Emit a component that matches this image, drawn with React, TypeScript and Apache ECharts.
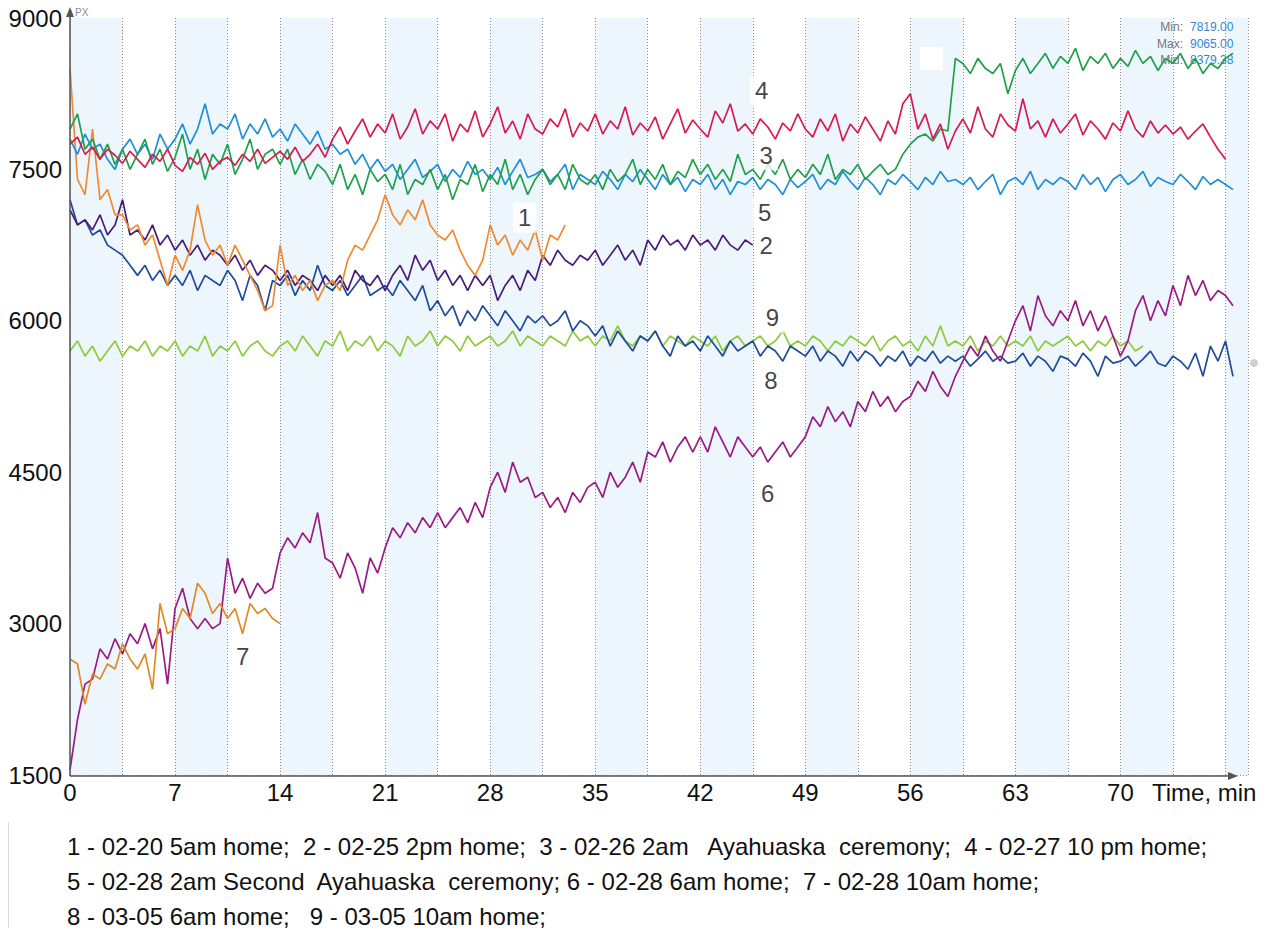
import React, { useEffect, useRef } from "react";
import * as echarts from "echarts";

// sampling step of the recordings, minutes
const STEP = 0.5;

const xTickLabels = [0, 7, 14, 21, 28, 35, 42, 49, 56, 63, 70];
const yTickLabels = [1500, 3000, 4500, 6000, 7500, 9000];

const seriesNames = ["1", "2", "3", "4", "5", "6", "7", "8", "9"];
const seriesColors = ["#F08A30", "#4A1C7A", "#1FA04A", "#D91A4E", "#1F8FDA", "#9B1B86", "#DF8A24", "#1E4B9B", "#8DCB3C"];

// 1 - 02-20 5am home
const s1 = [
  8500, 7400, 7250, 7900, 7200, 7300, 7050,
  7050, 6900, 6950, 6750, 6850, 6600, 6350,
  6650, 6500, 6700, 7150, 6800, 6650, 6750,
  6550, 6750, 6600, 6450, 6300, 6100, 6150,
  6750, 6350, 6450, 6300, 6400, 6200, 6350,
  6400, 6300, 6600, 6750, 6700, 6850, 7000,
  7250, 7050, 6950, 7100, 7000, 7200, 6950,
  6850, 6800, 6900, 6700, 6550, 6450, 6600,
  6950, 6750, 6850, 6650, 6800, 6700, 6900,
  6600, 6850, 6800, 6950,
];
// 2 - 02-25 2pm home
const s2 = [
  7100, 6950, 7000, 6900, 7050, 6850, 6950,
  7200, 6850, 6900, 6800, 6950, 6750, 6850,
  6700, 6800, 6650, 6750, 6600, 6700, 6650,
  6550, 6650, 6500, 6600, 6450, 6550, 6500,
  6400, 6500, 6350, 6450, 6400, 6300, 6450,
  6350, 6450, 6300, 6500, 6400, 6350, 6450,
  6300, 6450, 6550, 6400, 6650, 6500, 6600,
  6400, 6500, 6350, 6450, 6300, 6450, 6350,
  6450, 6200, 6350, 6450, 6300, 6500, 6400,
  6650, 6550, 6700, 6600, 6550, 6650, 6600,
  6700, 6550, 6650, 6750, 6600, 6700, 6550,
  6800, 6700, 6850, 6750, 6800, 6700, 6850,
  6750, 6800, 6700, 6850, 6750, 6700, 6800,
  6750,
];
// 3 - 02-26 2am Ayahuaska ceremony
const s3 = [
  7900, 8050, 7700, 7800, 7600, 7750, 7550,
  7700, 7500, 7650, 7800, 7550, 7700, 7480,
  7620, 7850, 7500, 7700, 7400, 7650, 7550,
  7750, 7450, 7600, 7800, 7500, 7650, 7700,
  7550, 7700, 7450, 7600, 7400, 7550, 7480,
  7350, 7550, 7300, 7450, 7250, 7500, 7380,
  7450, 7300, 7550, 7250, 7400, 7350, 7500,
  7300, 7450, 7200, 7400, 7350, 7550, 7280,
  7450, 7350, 7600, 7300, 7450, 7250, 7400,
  7500, 7350, 7450, 7300, 7550, 7400, 7350,
  7450, 7300, 7500, 7380, 7450, 7600, 7350,
  7500, 7400, 7550, 7350, 7480, 7420, 7600,
  7450, 7550, 7400, 7500, 7380, 7650, 7450,
  7500, 7400, 7550, 7450, 7600, 7400, 7500,
  7420, 7550, 7450, 7650, 7400, 7500, 7450,
  7550, 7400, 7480, 7550, 7450, 7500, 7650,
  7750, 7820, 7850, 7780, 7900, 7880, 8600,
  8550, 8450, 8600, 8500, 8450, 8550, 8250,
  8480, 8600, 8450, 8550, 8650, 8500, 8620,
  8550, 8700, 8480, 8620, 8550, 8650, 8500,
  8600, 8520, 8680, 8550, 8620, 8480, 8600,
  8550, 8650, 8500, 8600, 8450, 8550, 8500,
  8600, 8650,
];
// 4 - 02-27 10 pm home
const s4 = [
  7750, 7820, 7650, 7720, 7600, 7700, 7640,
  7560, 7680, 7600, 7520, 7650, 7580, 7700,
  7540, 7480, 7620, 7550, 7660, 7500, 7580,
  7620, 7540, 7650, 7580, 7700, 7560, 7620,
  7680, 7600, 7720, 7580, 7650, 7750, 7620,
  7800, 7920, 7750, 7880, 8000, 7820, 7950,
  7860, 8050, 7800, 7920, 8100, 7850, 7980,
  7900, 8050, 7780, 7950, 7870, 8080, 7820,
  7950, 8120, 7860, 7980, 7800, 8050, 7900,
  7850, 8000, 7920, 8100, 7820, 7960, 7880,
  8050, 7850, 7980, 7900, 8120, 7840, 7960,
  7880, 8020, 7800, 7950, 8100, 7860, 7990,
  7900, 7820, 8080, 7960, 8150, 7880, 7950,
  7850, 8000, 7920, 7800, 7960, 7880, 8050,
  7900, 7820, 8000, 7880, 8050, 7780, 7950,
  7860, 8020, 7900, 7780, 7980, 7850, 8150,
  8250, 7900, 8050, 7800, 7950, 7700, 7880,
  8000, 7860, 8120, 7900, 7820, 8050, 7940,
  7880, 8200, 7900, 7980, 7820, 8000, 7860,
  7950, 8050, 7840, 7980, 7900, 7800, 7960,
  7880, 8080, 7900, 7820, 7980, 7860, 7940,
  7850, 7920, 7800, 7880, 7950, 7820, 7700,
  7600,
];
// 5 - 02-28 2am Second Ayahuaska ceremony
const s5 = [
  7800, 7650, 7850, 7700, 7750, 7600, 7500,
  7700, 7800, 7650, 7750, 7600, 7850, 7700,
  7800, 7950, 7750, 7900, 8150, 7850, 7950,
  7900, 8050, 7800, 7950, 7850, 8000, 7820,
  7900, 7780, 7950, 7850, 7750, 7880, 7700,
  7750, 7650, 7700, 7550, 7650, 7500, 7600,
  7480, 7550, 7400, 7500, 7600, 7420, 7480,
  7550, 7380, 7500, 7420, 7580, 7450, 7500,
  7400, 7520, 7350, 7480, 7600, 7420, 7450,
  7500, 7380, 7450, 7550, 7300, 7450, 7400,
  7350, 7480, 7400, 7300, 7450, 7380, 7500,
  7400, 7300, 7450, 7350, 7420, 7280, 7400,
  7350, 7450, 7300, 7400, 7250, 7380, 7350,
  7420, 7300, 7400, 7350, 7250, 7400, 7320,
  7380, 7450, 7300, 7400, 7350, 7480, 7380,
  7300, 7420, 7350, 7250, 7400, 7350, 7450,
  7380, 7300, 7420, 7350, 7480, 7380, 7400,
  7350, 7420, 7300, 7380, 7450, 7250, 7380,
  7420, 7350, 7480, 7300, 7400, 7350, 7420,
  7380, 7300, 7450, 7350, 7420, 7280, 7400,
  7450, 7350, 7400, 7480, 7330, 7420, 7380,
  7350, 7450, 7380, 7300, 7430, 7350, 7400,
  7350, 7300,
];
// 6 - 02-28 6am home
const s6 = [
  1550, 2050, 2400, 2450, 2750, 2650, 2850,
  2700, 2900, 2800, 3000, 2750, 2950, 2400,
  3150, 3350, 3050, 2950, 3050, 2950, 3000,
  3650, 3300, 3450, 3250, 3400, 3300, 3350,
  3700, 3850, 3750, 3900, 3800, 4100, 3650,
  3600, 3450, 3700, 3550, 3300, 3650, 3500,
  3750, 3950, 3850, 4000, 3900, 4050, 3950,
  4100, 3950, 4050, 4150, 4000, 4200, 4050,
  4350, 4500, 4300, 4600, 4400, 4450, 4250,
  4300, 4150, 4250, 4100, 4300, 4200, 4350,
  4400, 4250, 4500, 4350, 4450, 4600, 4400,
  4700, 4650, 4800, 4600, 4750, 4850, 4700,
  4850, 4700, 4950, 4800, 4650, 4850, 4750,
  4650, 4750, 4600, 4700, 4800, 4650, 4750,
  4850, 5050, 4950, 5150, 5000, 5100, 4950,
  5200, 5100, 5300, 5150, 5250, 5100, 5200,
  5250, 5400, 5300, 5500, 5350, 5250, 5450,
  5600, 5750, 5650, 5850, 5700, 5600, 5800,
  6000, 6150, 5900, 6250, 6050, 5950, 6100,
  6000, 6200, 5950, 6100, 5900, 6050, 5850,
  5650, 5800, 6100, 6250, 6000, 6200, 6050,
  6350, 6150, 6450, 6250, 6400, 6200, 6300,
  6250, 6150,
];
// 7 - 02-28 10am home
const s7 = [
  2650, 2600, 2200, 2500, 2450, 2600, 2550,
  2800, 2650, 2550, 2700, 2350, 3200, 2900,
  2950, 3150, 3050, 3400, 3300, 3100, 3200,
  3050, 3150, 2900, 3200, 3100, 3150, 3050,
  3000,
];
// 8 - 03-05 6am home
const s8 = [
  7200, 6950, 7000, 6850, 6900, 6750, 6700,
  6650, 6550, 6450, 6550, 6400, 6500, 6350,
  6450, 6350, 6500, 6300, 6450, 6400, 6350,
  6500, 6400, 6200, 6450, 6350, 6100, 6400,
  6350, 6450, 6250, 6400, 6300, 6550, 6350,
  6300, 6400, 6250, 6350, 6450, 6250, 6300,
  6350, 6250, 6400, 6300, 6200, 6350, 6100,
  6200, 6050, 6150, 5950, 6100, 6000, 6150,
  6050, 5950, 6100, 6000, 5900, 6050, 5980,
  6050, 5950, 6000, 6100, 5900, 6000, 5950,
  5850, 5950, 5750, 5900, 5800, 5700, 5850,
  5800, 5900, 5750, 5650, 5850, 5750, 5800,
  5700, 5850, 5750, 5650, 5800, 5700, 5750,
  5800, 5650, 5750, 5700, 5600, 5750, 5700,
  5650, 5750, 5600, 5700, 5650, 5550, 5700,
  5600, 5700, 5650, 5550, 5650, 5600, 5700,
  5550, 5650, 5600, 5700, 5580, 5650, 5600,
  5650, 5550, 5620, 5700, 5600, 5650, 5580,
  5600, 5680, 5550, 5650, 5600, 5500, 5650,
  5620, 5550, 5680, 5600, 5450, 5650, 5580,
  5600, 5650, 5550, 5620, 5700, 5580, 5550,
  5650, 5600, 5520, 5680, 5450, 5750, 5600,
  5800, 5450,
];
// 9 - 03-05 10am home
const s9 = [
  5700, 5800, 5650, 5750, 5600, 5700, 5800,
  5650, 5750, 5700, 5800, 5650, 5750, 5700,
  5800, 5650, 5750, 5700, 5850, 5650, 5750,
  5700, 5800, 5650, 5750, 5800, 5700, 5650,
  5750, 5800, 5700, 5850, 5750, 5650, 5800,
  5750, 5900, 5700, 5800, 5750, 5850, 5700,
  5800, 5750, 5650, 5850, 5750, 5800, 5900,
  5750, 5850, 5800, 5700, 5850, 5750, 5800,
  5850, 5750, 5800, 5900, 5750, 5850, 5800,
  5750, 5850, 5800, 5750, 5900, 5800, 5850,
  5750, 5850, 5800, 5950, 5800, 5750, 5850,
  5800, 5900, 5750, 5850, 5800, 5750, 5850,
  5800, 5750, 5850, 5700, 5800, 5850, 5750,
  5800, 5850, 5750, 5800, 5900, 5750, 5800,
  5750, 5850, 5800, 5700, 5800, 5750, 5850,
  5800, 5750, 5850, 5700, 5800, 5850, 5750,
  5800, 5700, 5850, 5750, 5950, 5750, 5800,
  5750, 5850, 5700, 5800, 5750, 5850, 5750,
  5800, 5750, 5850, 5700, 5800, 5750, 5800,
  5850, 5750, 5800, 5700, 5800, 5750, 5850,
  5750, 5800, 5700, 5750,
];

const seriesValues = [s1, s2, s3, s4, s5, s6, s7, s8, s9];
// drawing order (first drawn at bottom)
const drawOrder = [8, 7, 5, 6, 1, 0, 4, 2, 3];

// curve number tags: [time, value, tag]
const curveTags: [number, number, string][] = [
  [46.1, 8280, "4"],
  [46.4, 7640, "3"],
  [46.3, 7070, "5"],
  [30.3, 7020, "1"],
  [46.4, 6750, "2"],
  [46.8, 6030, "9"],
  [46.7, 5410, "8"],
  [46.5, 4290, "6"],
  [11.5, 2670, "7"],
];

const statKeys = ["Min:", "Max:", "Mid:"];
const statValues = ["7819.00", "9065.00", "8379.38"];

const legendLines = [
  "1 - 02-20 5am home;  2 - 02-25 2pm home;  3 - 02-26 2am   Ayahuaska  ceremony;  4 - 02-27 10 pm home;",
  "5 - 02-28 2am Second  Ayahuaska  ceremony; 6 - 02-28 6am home;  7 - 02-28 10am home;",
  "8 - 03-05 6am home;   9 - 03-05 10am home;",
];

const FONT = '"Liberation Sans", Arial, Helvetica, sans-serif';

export default function App() {
  const ref = useRef<HTMLDivElement>(null);
  useEffect(() => {
    if (!ref.current) return;
    const chart = echarts.init(ref.current, undefined, { renderer: "svg" });

    const lineSeries = drawOrder.map((k) => ({
      type: "line",
      name: seriesNames[k],
      data: seriesValues[k].map((v, i) => [i * STEP, v]),
      showSymbol: false,
      symbol: "none",
      lineStyle: { color: seriesColors[k], width: 1.7 },
      itemStyle: { color: seriesColors[k] },
      silent: true,
      z: 3,
    }));

    const graphics: any[] = [
      // y axis line with arrow
      { type: "line", shape: { x1: 70, y1: 776, x2: 70, y2: 12 }, style: { stroke: "#555", lineWidth: 1.5 }, z: 10 },
      { type: "polygon", shape: { points: [[66, 17], [74, 17], [70, 7]] }, style: { fill: "#555" }, z: 10 },
      { type: "text", x: 75, y: 12, style: { text: "PX", fontSize: 10, fontFamily: FONT, fill: "#7f8fa6", verticalAlign: "middle" } },
      // x axis line with arrow
      { type: "line", shape: { x1: 70, y1: 776, x2: 1232, y2: 776 }, style: { stroke: "#555", lineWidth: 1.5 }, z: 10 },
      { type: "polygon", shape: { points: [[1228, 772], [1228, 780], [1238, 776]] }, style: { fill: "#555" }, z: 10 },
      { type: "text", x: 1152, y: 792, style: { text: "Time, min", fontSize: 24, fontFamily: FONT, fill: "#111", verticalAlign: "middle" } },
      { type: "text", x: 91, y: 30, style: { text: "Area, pal", fontSize: 24, fontFamily: FONT, fill: "#111", verticalAlign: "middle" } },
      { type: "rect", shape: { x: 920, y: 47, width: 23, height: 23 }, style: { fill: "#ffffff" }, z: 1 },
      { type: "circle", shape: { cx: 1254, cy: 363, r: 4 }, style: { fill: "#cfcfcf" } },
      { type: "line", shape: { x1: 8.5, y1: 822, x2: 8.5, y2: 928 }, style: { stroke: "#dddddd", lineWidth: 1 } },
    ];
    statKeys.forEach((k, i) => {
      graphics.push({ type: "text", x: 1183, y: 27 + i * 16.5, z: 1, style: { text: k, fontSize: 12, fontFamily: FONT, fill: "#777", align: "right", verticalAlign: "middle" } });
      graphics.push({ type: "text", x: 1190, y: 27 + i * 16.5, z: 1, style: { text: statValues[i], fontSize: 12, fontFamily: FONT, fill: "#2f86d6", align: "left", verticalAlign: "middle" } });
    });
    legendLines.forEach((t, i) => {
      graphics.push({ type: "text", x: 67, y: 846 + i * 35, style: { text: t, fontSize: 24, fontFamily: FONT, fill: "#111", verticalAlign: "middle" } });
    });

    chart.setOption({
      animation: false,
      textStyle: { fontFamily: FONT },
      grid: { left: 70, top: 18, width: 1178, height: 757, containLabel: false },
      xAxis: {
        type: "value",
        min: 0,
        max: 78.5,
        interval: 3.5,
        axisLine: { show: false },
        axisTick: { show: false },
        axisLabel: {
          fontSize: 24,
          color: "#111",
          margin: 5,
          showMaxLabel: false,
          formatter: (v: number) => (xTickLabels.includes(Math.round(v * 10) / 10) ? String(Math.round(v)) : ""),
        },
        splitLine: { show: true, lineStyle: { color: "#8a8a8a", type: [1, 2], width: 1 } },
        splitArea: { show: true, areaStyle: { color: ["#eef6fd", "#ffffff"] } },
      },
      yAxis: {
        type: "value",
        min: 1500,
        max: 9000,
        interval: 750,
        axisLine: { show: false },
        axisTick: { show: false },
        axisLabel: {
          fontSize: 24,
          color: "#111",
          margin: 8,
          formatter: (v: number) => (yTickLabels.includes(v) ? String(v) : ""),
        },
        splitLine: { show: true, lineStyle: { color: "#8a8a8a", type: [1, 2], width: 1 } },
      },
      series: [
        ...lineSeries,
        {
          type: "scatter",
          data: curveTags.map((t) => ({ value: [t[0], t[1]], name: t[2] })),
          symbolSize: 0.1,
          itemStyle: { color: "rgba(0,0,0,0)" },
          silent: true,
          z: 6,
          label: {
            show: true,
            position: "inside",
            formatter: "{b}",
            fontSize: 24,
            color: "#111",
            backgroundColor: "#ffffff",
            padding: [3, 5, 3, 5],
          },
        },
      ],
      graphic: graphics,
    });
    return () => chart.dispose();
  }, []);
  return <div ref={ref} style={{ position: "absolute", left: 0, top: 0, width: 1269, height: 928 }} />;
}
